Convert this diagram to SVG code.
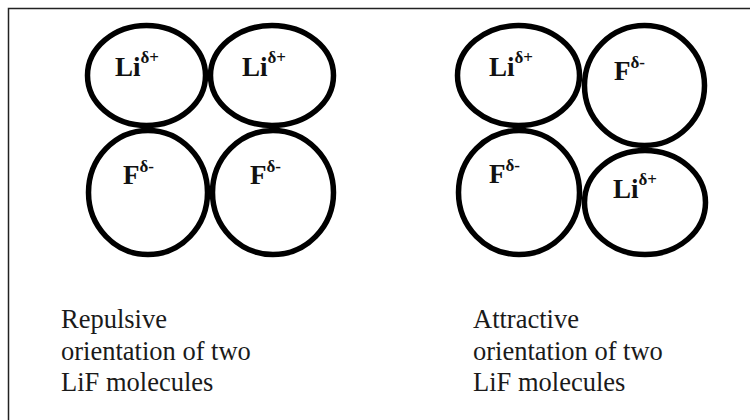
<svg xmlns="http://www.w3.org/2000/svg" width="750" height="420" viewBox="0 0 750 420">
<style>
.atom{fill:none;stroke:#000;stroke-width:5.5}
.lbl{font-weight:bold;font-size:27px;fill:#111}
.sup{font-size:17px}
.cap{font-size:26.5px;fill:#1a1a1a}
</style>
<rect x="0" y="0" width="750" height="420" fill="#fff"/>
<path d="M8.5,420 V8.5 H750" fill="none" stroke="#222" stroke-width="1.5"/>
<g font-family="Liberation Serif, Times New Roman, DejaVu Serif, serif">
<g id="repulsive">
<g id="rep-li1"><ellipse class="atom" cx="146.5" cy="75.5" rx="59" ry="50"/><text class="lbl" x="115" y="76">Li<tspan class="sup" dy="-13">δ+</tspan></text></g>
<g id="rep-li2"><ellipse class="atom" cx="272" cy="75.5" rx="61.5" ry="50"/><text class="lbl" x="242" y="76">Li<tspan class="sup" dy="-13">δ+</tspan></text></g>
<g id="rep-f1"><ellipse class="atom" cx="148" cy="192.5" rx="59.5" ry="62"/><text class="lbl" x="123" y="184">F<tspan class="sup" dy="-12">δ-</tspan></text></g>
<g id="rep-f2"><ellipse class="atom" cx="273" cy="192.5" rx="60.5" ry="62"/><text class="lbl" x="250" y="184">F<tspan class="sup" dy="-12">δ-</tspan></text></g>
</g>
<g id="attractive">
<g id="att-li1"><ellipse class="atom" cx="518.5" cy="75.5" rx="61" ry="50"/><text class="lbl" x="489" y="76">Li<tspan class="sup" dy="-13">δ+</tspan></text></g>
<g id="att-f1"><ellipse class="atom" cx="644.5" cy="85.5" rx="60" ry="60"/><text class="lbl" x="614" y="80">F<tspan class="sup" dy="-12">δ-</tspan></text></g>
<g id="att-f2"><ellipse class="atom" cx="519" cy="192.5" rx="60.5" ry="62"/><text class="lbl" x="489" y="183">F<tspan class="sup" dy="-12">δ-</tspan></text></g>
<g id="att-li2"><ellipse class="atom" cx="645" cy="202.5" rx="60.5" ry="52"/><text class="lbl" x="613" y="198">Li<tspan class="sup" dy="-13">δ+</tspan></text></g>
</g>
<g id="captions">
<text class="cap" x="61" y="328">Repulsive</text>
<text class="cap" x="61" y="360">orientation of two</text>
<text class="cap" x="61" y="391">LiF molecules</text>
<text class="cap" x="473" y="328">Attractive</text>
<text class="cap" x="473" y="360">orientation of two</text>
<text class="cap" x="473" y="391">LiF molecules</text>
</g>
</g>
</svg>
